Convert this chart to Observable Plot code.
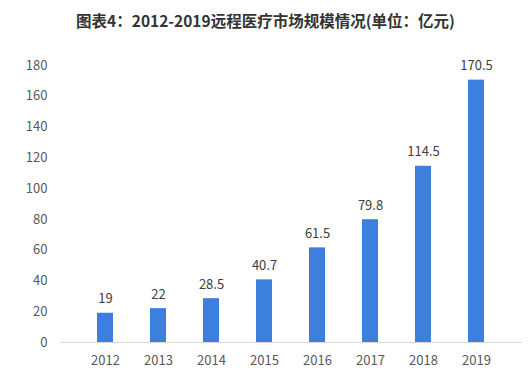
<!DOCTYPE html>
<html>
<head>
<meta charset="utf-8">
<script src="https://cdn.jsdelivr.net/npm/d3@7"></script>
<script src="https://cdn.jsdelivr.net/npm/@observablehq/plot@0.6"></script>
<style>
  body { margin: 0; background: #fff; }
  #title { height: 40px; line-height: 40px; text-align: center; font-family: "Noto Sans CJK SC", sans-serif; font-weight: bold; font-size: 15.5px; color: #333; width: 531px; }
</style>
</head>
<body>
<div id="title">图表4：2012-2019远程医疗市场规模情况(单位：亿元)</div>
<div id="chart"></div>
<script>
const years = ["2012", "2013", "2014", "2015", "2016", "2017", "2018", "2019"];
const values = [19, 22, 28.5, 40.7, 61.5, 79.8, 114.5, 170.5];
const yTicks = [0, 20, 40, 60, 80, 100, 120, 140, 160, 180];

const data = years.map((y, i) => ({year: y, value: values[i]}));

const chart = Plot.plot({
  width: 531,
  height: 340,
  marginTop: 25,
  marginBottom: 38,
  marginLeft: 60,
  marginRight: 9,
  style: {fontFamily: "'Noto Sans CJK SC', sans-serif", fontSize: "13px", color: "#595959", background: "#fff"},
  x: {domain: years, padding: 0.69, label: null, tickSize: 0, tickPadding: 13},
  y: {domain: [0, 180], ticks: yTicks, label: null, tickSize: 0, tickPadding: 13},
  marks: [
    Plot.barY(data, {x: "year", y: "value", fill: "#3d7fdc"}),
    Plot.ruleY([0], {stroke: "#d9d9d9", strokeWidth: 1}),
    Plot.text(data, {x: "year", y: "value", text: d => String(d.value), dy: -10, lineAnchor: "bottom", fill: "#404040", fontSize: 13})
  ]
});
document.getElementById("chart").appendChild(chart);
</script>
</body>
</html>
